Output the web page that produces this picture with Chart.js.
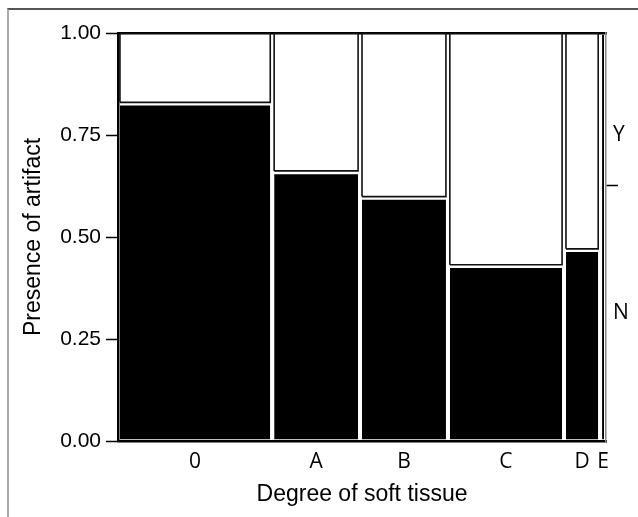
<!DOCTYPE html>
<html><head><meta charset="utf-8">
<script src="https://cdn.jsdelivr.net/npm/chart.js@4"></script>
<style>
html,body{margin:0;padding:0;background:#fff;}
#wrap{position:relative;width:638px;height:517px;overflow:hidden;}
#frame{position:absolute;left:7px;top:8px;width:640px;height:520px;border-top:2px solid #555;border-left:2px solid #aaa;}
canvas{position:absolute;left:0;top:0;}
</style></head><body>
<div id="wrap"><div id="frame"></div><canvas id="c" width="638" height="517"></canvas></div>
<script>
// Categories of "Degree of soft tissue"
const categories = ['0', 'A', 'B', 'C', 'D', 'E'];
// Relative column widths (share of observations in each category)
const shares = [0.316, 0.180, 0.180, 0.238, 0.074, 0.012];
// Proportion with artifact = N in each category
const propN = [0.826, 0.658, 0.595, 0.428, 0.467, 1.0];
// Overall (marginal) proportion N, shown on right axis
const overallN = 0.627;
const rightLabels = ['N', '', 'Y'];
const rightLabelPos = [0.313, overallN, 0.75];
const yTicks = [0, 0.25, 0.5, 0.75, 1];

const GX = 0.004, GY = 0.004;
const datasets = [];
const centers = [];
let cum = 0;
shares.forEach((s, i) => {
  const x0 = cum + GX, x1 = cum + s - GX;
  centers.push(cum + s / 2);
  cum += s;
  const v = propN[i];
  datasets.push({
    data: [{x: x0, y: GY}, {x: x0, y: v - GY}, {x: x1, y: v - GY}, {x: x1, y: GY}],
    fill: {value: GY}, backgroundColor: '#000', borderColor: '#000', borderWidth: 0,
    pointRadius: 0, tension: 0
  });
  if (v < 1) {
    datasets.push({
      data: [{x: x0, y: v + GY}, {x: x0, y: 1}, {x: x1, y: 1}, {x: x1, y: v + GY}, {x: x0, y: v + GY}],
      fill: false, borderColor: '#111', borderWidth: 1.6, pointRadius: 0, tension: 0
    });
  }
});

const total = cum;
new Chart(document.getElementById('c'), {
  type: 'line',
  data: {datasets},
  options: {
    responsive: false, animation: false,
    layout: {padding: {top: 33, left: 0, right: 0, bottom: 0}},
    plugins: {legend: {display: false}, tooltip: {enabled: false}},
    scales: {
      x: {
        type: 'linear', position: 'bottom', min: 0, max: total,
        afterBuildTicks: s => { s.ticks = centers.map(v => ({value: v})); },
        afterFit: s => { s.height = 76; },
        ticks: {autoSkip: false, maxRotation: 0, padding: 8, color: '#000',
          font: {family: 'Open Sans', size: 21},
          callback: (v, i) => categories[i]},
        grid: {display: true, drawOnChartArea: false, drawTicks: false},
        border: {color: '#000', width: 2.5},
        title: {display: true, text: 'Degree of soft tissue', color: '#000',
          font: {family: 'Liberation Sans', size: 23}, padding: {top: 0, bottom: 9}}
      },
      xTop: {
        type: 'linear', position: 'top', min: 0, max: total,
        afterFit: s => { s.height = 0; },
        ticks: {display: false},
        grid: {display: true, drawOnChartArea: false, drawTicks: false},
        border: {color: '#000', width: 2.5}
      },
      y: {
        type: 'linear', position: 'left', min: 0, max: 1,
        afterBuildTicks: s => { s.ticks = yTicks.map(v => ({value: v})); },
        afterFit: s => { s.width = 118; },
        ticks: {padding: 5, color: '#000', font: {family: 'Liberation Sans', size: 21},
          callback: v => v.toFixed(2)},
        grid: {display: true, drawOnChartArea: false, tickLength: 12, tickColor: '#000', tickWidth: 1.5},
        border: {color: '#000', width: 2.5},
        title: {display: true, text: 'Presence of artifact', color: '#000',
          font: {family: 'Liberation Sans', size: 23}, padding: {top: 20, bottom: 0}}
      },
      yR: {
        type: 'linear', position: 'right', min: 0, max: 1,
        afterBuildTicks: s => { s.ticks = rightLabelPos.map(v => ({value: v})); },
        afterFit: s => { s.width = 32; },
        ticks: {padding: -5, color: '#000', font: {family: 'Open Sans', size: 21},
          callback: (v, i) => rightLabels[i]},
        grid: {display: true, drawOnChartArea: false, tickLength: 12, tickWidth: 1.5,
          tickColor: ctx => ctx.index === 1 ? '#000' : 'rgba(0,0,0,0)'},
        border: {color: '#888', width: 1.5}
      }
    }
  }
});
</script>
</body></html>
